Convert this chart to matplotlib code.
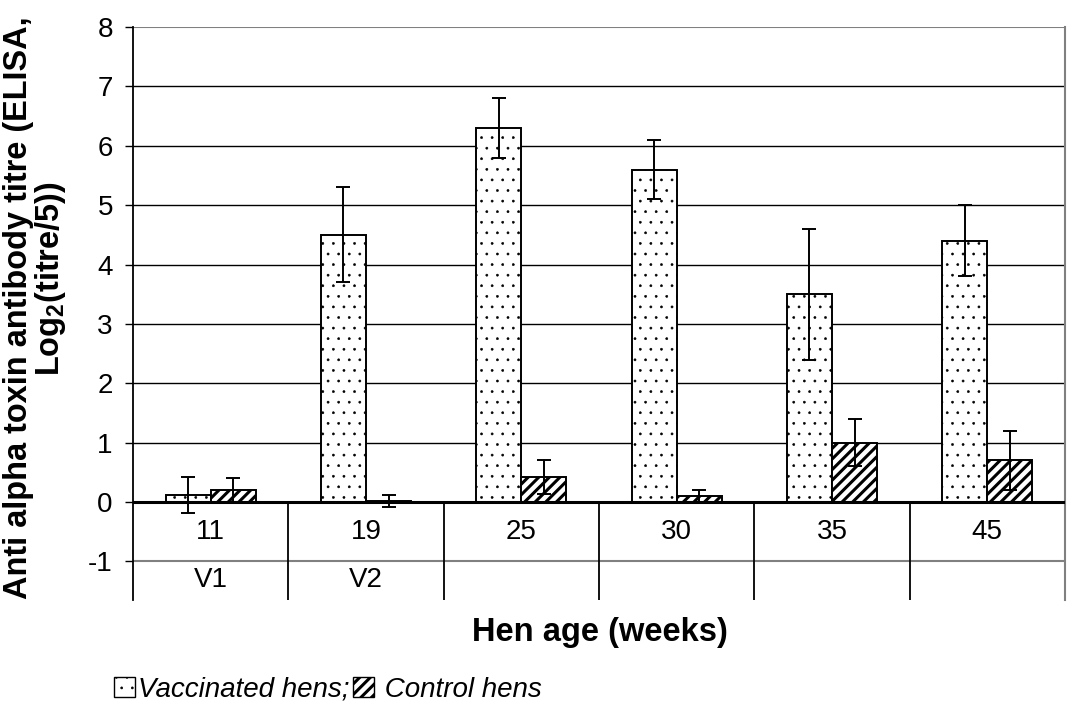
import matplotlib
matplotlib.use('Agg')
import matplotlib.pyplot as plt
import numpy as np
from matplotlib.patches import Patch

# ---- data ----
ages = ['11', '19', '25', '30', '35', '45']
vacc_labels = ['V1', 'V2', '', '', '', '']
vacc = [0.12, 4.5, 6.3, 5.6, 3.5, 4.4]
vacc_err = [0.3, 0.8, 0.5, 0.5, 1.1, 0.6]
ctrl = [0.2, 0.02, 0.42, 0.1, 1.0, 0.7]
ctrl_err = [0.2, 0.1, 0.28, 0.1, 0.4, 0.5]
yticks = [-1, 0, 1, 2, 3, 4, 5, 6, 7, 8]

plt.rcParams['font.family'] = ['Liberation Sans', 'DejaVu Sans']

# Render at dpi 127 so that hatch patterns get the reference density;
# all point sizes below are expressed relative to dpi 100 and scaled by S.
DPI = 127
S = 100 / DPI
plt.rcParams['hatch.linewidth'] = 0.4 * S

W, H = 1067, 705
fig = plt.figure(figsize=(W / DPI, H / DPI), dpi=DPI)
ax = fig.add_axes([133 / W, 1 - 600 / H, (1065 - 133) / W, (600 - 27) / H])

x = np.arange(len(ages)) + 0.5
w = 0.29

def set_hlw(patch, lw):
    try:
        patch.set_hatch_linewidth(lw)
    except AttributeError:
        pass

DOT = '..'
STRIPE = '////'

b1 = ax.bar(x - w / 2, vacc, w, color='white', edgecolor='black', hatch=DOT,
            linewidth=1.4 * S, zorder=3)
b2 = ax.bar(x + w / 2, ctrl, w, color='white', edgecolor='black', hatch=STRIPE,
            linewidth=1.4 * S, zorder=3)
for p in b1:
    set_hlw(p, 0.4 * S)
for p in b2:
    set_hlw(p, 2.2 * S)

ax.errorbar(x - w / 2, vacc, yerr=vacc_err, fmt='none', ecolor='black',
            elinewidth=1.4 * S, capsize=5 * S, capthick=1.4 * S, zorder=4)
ax.errorbar(x + w / 2, ctrl, yerr=ctrl_err, fmt='none', ecolor='black',
            elinewidth=1.4 * S, capsize=5 * S, capthick=1.4 * S, zorder=4)

ax.set_xlim(0, len(ages))
ax.set_ylim(-1.65, 8)

# gridlines
for v in yticks:
    if v == 0:
        ax.axhline(v, color='black', lw=2.2 * S, zorder=5)
    elif v in (-1, 8):
        ax.axhline(v, color='#808080', lw=1.5 * S, zorder=1)
    else:
        ax.axhline(v, color='black', lw=1.0 * S, zorder=1)

# category dividers below zero line
ax.vlines(np.arange(1, len(ages)), -1.65, 0, color='black', lw=1.3 * S, zorder=2)

# category labels
for xi, a, v in zip(x, ages, vacc_labels):
    ax.text(xi, -0.5, a, ha='center', va='center', fontsize=20 * S)
    if v:
        ax.text(xi, -1.32, v, ha='center', va='center', fontsize=20 * S)

ax.set_xticks([])
ax.set_yticks(yticks)
ax.set_yticklabels([str(t) for t in yticks], fontsize=20 * S)
ax.tick_params(axis='y', direction='out', length=5.5 * S, width=1 * S, pad=9 * S)

ax.spines['top'].set_visible(False)
ax.spines['bottom'].set_visible(False)
ax.spines['left'].set_linewidth(1.3 * S)
ax.spines['right'].set_color('#808080')
ax.spines['right'].set_linewidth(1.5 * S)

fig.text(600 / W, 1 - 633 / H, 'Hen age (weeks)', ha='center', va='center',
         fontsize=23.5 * S, fontweight='bold')

fig.text(18 / W, 1 - 599 / H, 'Anti alpha toxin antibody titre (ELISA,',
         rotation=90, rotation_mode='anchor', ha='left', va='center',
         fontsize=23.4 * S, fontweight='bold')
fig.text(50 / W, 1 - 376 / H, r'Log$_\mathregular{2}$(titre/5))',
         rotation=90, rotation_mode='anchor', ha='left', va='center',
         fontsize=23.4 * S, fontweight='bold')

h1 = Patch(facecolor='white', edgecolor='black', hatch=DOT, lw=1 * S)
h2 = Patch(facecolor='white', edgecolor='black', hatch=STRIPE, lw=1 * S)
leg = fig.legend([h1, h2], ['Vaccinated hens;', ' Control hens'], loc='center left',
                 bbox_to_anchor=(114 / W, 1 - 690 / H), ncol=2, frameon=False,
                 handlelength=0.75, handleheight=0.75, handletextpad=0.1,
                 columnspacing=0.15, prop={'style': 'italic', 'size': 20 * S},
                 borderpad=0, borderaxespad=0)
lp = leg.get_patches()
if len(lp) == 2:
    set_hlw(lp[0], 0.4 * S)
    set_hlw(lp[1], 2.2 * S)

fig.savefig('out.png', dpi=DPI)
